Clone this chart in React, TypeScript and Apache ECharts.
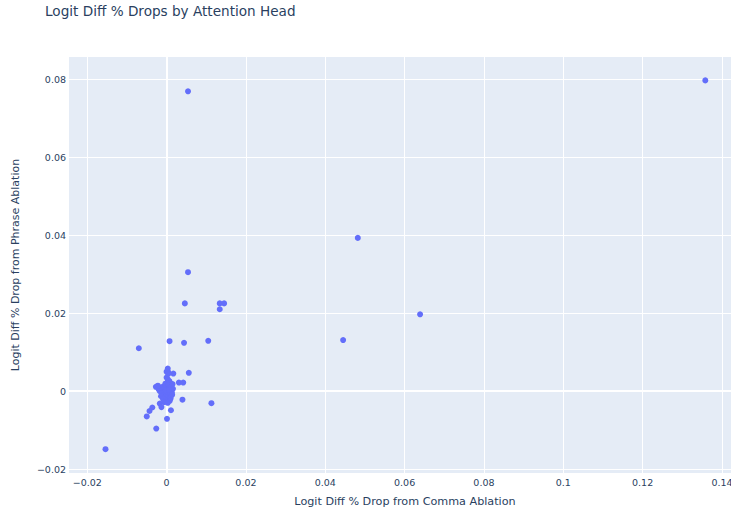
import React, { useEffect, useRef } from "react";
import * as echarts from "echarts";

const chartTitle = "Logit Diff % Drops by Attention Head";
const xAxisTitle = "Logit Diff % Drop from Comma Ablation";
const yAxisTitle = "Logit Diff % Drop from Phrase Ablation";

const xTicks = [-0.02, 0, 0.02, 0.04, 0.06, 0.08, 0.1, 0.12, 0.14];
const yTicks = [-0.02, 0, 0.02, 0.04, 0.06, 0.08];

// outlying heads
const commaDrop = [
  0.1358, 0.0054, 0.0482, 0.0054, 0.0046, 0.0134, 0.0145, 0.0134, 0.0639, 0.0445,
  -0.007, 0.0105, 0.00075, 0.0044, 0.0056, 0.0017, 0.0003, 0.0004, 0.0031, 0.0042,
  -0.0027, 0.004, 0.0113, -0.0036, -0.0043, -0.005, -0.0017, -0.0013, 0.0011, 0.0001,
  -0.0026, -0.0154,
  // dense cluster near zero
  0.0, 0.0003, 0.0007, 0.0002, -0.0003, 0.001, 0.0015, 0.0005, -0.0008, 0.0012,
  -0.0015, 0.0002, 0.0008, -0.0005, 0.0016, -0.002, 0.0003, -0.001, 0.001, 0.0,
  -0.0017, 0.0006, -0.0006, 0.0013, 0.0001, -0.0012, 0.0009, -0.0003, 0.0004, -0.0008,
  0.0012, 0.0, -0.0014, 0.0007, -0.0004, 0.0002, 0.001, -0.0009, 0.0005, -0.0002,
  0.0001, 0.0008, -0.0006, 0.0003, -0.0001, 0.0004, 0.0002, -0.0002, 0.0006, 0.0,
  0.0004, -0.0022, 0.0014,
];
const phraseDrop = [
  0.0797, 0.0769, 0.0393, 0.0305, 0.0225, 0.0225, 0.0225, 0.021, 0.0197, 0.0131,
  0.011, 0.0129, 0.0128, 0.0124, 0.0047, 0.0045, 0.0058, 0.0049, 0.0022, 0.0022,
  0.0011, -0.0022, -0.0031, -0.0042, -0.0051, -0.0065, -0.0032, -0.0041, -0.0049, -0.0071,
  -0.0096, -0.0149,
  0.0035, 0.003, 0.0026, 0.0022, 0.0019, 0.002, 0.0018, 0.0015, 0.0012, 0.0012,
  0.0009, 0.001, 0.0008, 0.0006, 0.0006, 0.0005, 0.0004, 0.0003, 0.0002, 0.0001,
  0.0, -0.0001, -0.0002, -0.0003, -0.0004, -0.0005, -0.0006, -0.0007, -0.0008, -0.001,
  -0.0011, -0.0012, -0.0013, -0.0014, -0.0016, -0.0018, -0.0019, -0.002, -0.0022, -0.0024,
  -0.0027, -0.0025, -0.0028, -0.003, -0.0005, 0.0, -0.0002, 0.0002, 0.0003, 0.005,
  0.0044, 0.0014, -0.0009,
];

const fmt = (v: number) => {
  if (Math.abs(v) < 1e-9) return "0";
  return String(parseFloat(v.toFixed(2))).replace("-", "\u2212");
};

const FONT = "DejaVu Sans";
const TXT = "#2a3f5f";

export default function App() {
  const ref = useRef<HTMLDivElement>(null);
  useEffect(() => {
    if (!ref.current) return;
    const chart = echarts.init(ref.current, undefined, { renderer: "svg" });
    const data = commaDrop.map((x, i) => [x, phraseDrop[i]]);
    chart.setOption({
      animation: false,
      title: {
        text: chartTitle,
        left: 40,
        top: -1,
        textStyle: { fontFamily: FONT, fontSize: 13.6, fontWeight: "normal", color: TXT },
      },
      grid: {
        left: 69,
        right: 0,
        top: 57,
        bottom: 39,
        backgroundColor: "#E5ECF6",
        show: true,
        borderWidth: 0,
      },
      xAxis: {
        type: "value",
        min: -0.0246,
        max: 0.1448,
        name: xAxisTitle,
        nameLocation: "middle",
        nameGap: 23,
        nameTextStyle: { fontFamily: FONT, fontSize: 11.2, color: TXT },
        axisLine: { show: false },
        axisTick: { show: false, customValues: xTicks },
        axisLabel: {
          customValues: xTicks,
          formatter: fmt,
          fontFamily: FONT,
          fontSize: 9.5,
          color: TXT,
          margin: 4,
        },
        splitLine: { show: true, lineStyle: { color: "#ffffff", width: 1 } },
      },
      yAxis: {
        type: "value",
        min: -0.021,
        max: 0.0857,
        name: yAxisTitle,
        nameLocation: "middle",
        nameGap: 48,
        nameTextStyle: { fontFamily: FONT, fontSize: 11, color: TXT },
        axisLine: { show: false },
        axisTick: { show: false, customValues: yTicks },
        axisLabel: {
          customValues: yTicks,
          formatter: fmt,
          fontFamily: FONT,
          fontSize: 9.5,
          color: TXT,
          margin: 3,
        },
        splitLine: { show: true, lineStyle: { color: "#ffffff", width: 1 } },
      },
      series: [
        {
          type: "scatter",
          data,
          symbolSize: 6,
          itemStyle: { color: "#636efa", opacity: 1 },
          markLine: {
            silent: true,
            symbol: "none",
            label: { show: false },
            lineStyle: { color: "#ffffff", width: 2, type: "solid" },
            data: [{ xAxis: 0 }, { yAxis: 0 }],
            z: 1,
          },
          z: 3,
        },
      ],
    });
    return () => chart.dispose();
  }, []);
  return (
    <div style={{ position: "absolute", left: 0, top: 0, width: 731, height: 512, overflow: "hidden" }}>
      <div ref={ref} style={{ width: 741, height: 512 }} />
    </div>
  );
}
